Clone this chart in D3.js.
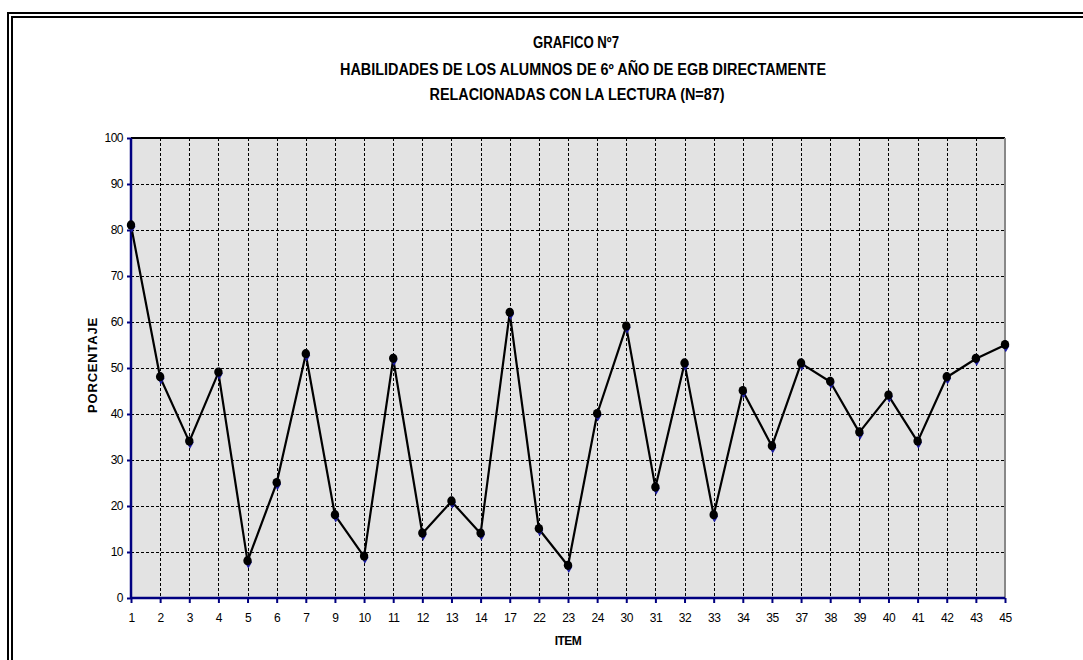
<!DOCTYPE html>
<html>
<head>
<meta charset="utf-8">
<script src="https://cdn.jsdelivr.net/npm/d3@7/dist/d3.min.js"></script>
<style>
  html, body { margin: 0; padding: 0; background: #fff; }
  svg { display: block; }
  text { font-family: "Liberation Sans", Arial, sans-serif; fill: #000; }
</style>
</head>
<body>
<svg id="chart" width="1083" height="660"></svg>
<script>
// Item numbers on the category axis
const items = ["1","2","3","4","5","6","7","9","10","11","12","13","14","17","22","23","24",
               "30","31","32","33","34","35","37","38","39","40","41","42","43","45"];
// Percentage of students per item
const percentages = [81, 48, 34, 49, 8, 25, 53, 18, 9, 52, 14, 21, 14, 62, 15, 7, 40,
                     59, 24, 51, 18, 45, 33, 51, 47, 36, 44, 34, 48, 52, 55];
const yTicks = [0, 10, 20, 30, 40, 50, 60, 70, 80, 90, 100];
const titleLines = [
  "GRAFICO Nº7",
  "HABILIDADES  DE LOS ALUMNOS DE 6º AÑO DE EGB DIRECTAMENTE",
  "RELACIONADAS CON LA LECTURA  (N=87)"
];
const xTitle = "ITEM";
const yTitle = "PORCENTAJE";

const svg = d3.select("#chart");
const W = 1083, H = 660;
const m = { left: 131, right: 1005, top: 138, bottom: 598 };
const navy = "#000080";

// Double frame around the chart
svg.append("rect").attr("x", 8).attr("y", 13).attr("width", W + 20).attr("height", H + 20)
  .attr("fill", "none").attr("stroke", "#000").attr("stroke-width", 2);
svg.append("rect").attr("x", 12).attr("y", 17).attr("width", W + 20).attr("height", H + 20)
  .attr("fill", "none").attr("stroke", "#000").attr("stroke-width", 2);

const x = d3.scalePoint().domain(items).range([m.left, m.right]).padding(0);
const y = d3.scaleLinear().domain([0, 100]).range([m.bottom, m.top]);

// Plot background
svg.append("rect").attr("x", m.left).attr("y", m.top)
  .attr("width", m.right - m.left).attr("height", m.bottom - m.top)
  .attr("fill", "#e3e3e3");

// Dashed gridlines
const grid = svg.append("g").attr("stroke", "#000").attr("stroke-width", 1)
  .attr("stroke-dasharray", "3,2");
grid.selectAll("line.h").data(yTicks.filter(d => d > 0 && d < 100)).join("line")
  .attr("x1", m.left).attr("x2", m.right)
  .attr("y1", d => Math.round(y(d)) + 0.5).attr("y2", d => Math.round(y(d)) + 0.5);
grid.selectAll("line.v").data(items.slice(1, -1)).join("line")
  .attr("y1", m.top).attr("y2", m.bottom)
  .attr("x1", d => Math.round(x(d)) + 0.5).attr("x2", d => Math.round(x(d)) + 0.5);

// Plot area border: top black, right grey
svg.append("line").attr("x1", m.left).attr("x2", m.right).attr("y1", m.top).attr("y2", m.top)
  .attr("stroke", "#000").attr("stroke-width", 2);
svg.append("line").attr("x1", m.right).attr("x2", m.right).attr("y1", m.top).attr("y2", m.bottom)
  .attr("stroke", "#888").attr("stroke-width", 2);

// Axes
const yAxis = d3.axisLeft(y).tickValues(yTicks).tickSize(4).tickPadding(4);
const gy = svg.append("g").attr("transform", `translate(${m.left},0)`).call(yAxis);
const xAxis = d3.axisBottom(x).tickSize(5).tickPadding(10);
const gx = svg.append("g").attr("transform", `translate(0,${m.bottom})`).call(xAxis);
[gx, gy].forEach(g => {
  g.select(".domain").attr("stroke", navy).attr("stroke-width", 2.5);
  g.selectAll(".tick line").attr("stroke", navy).attr("stroke-width", 2);
  g.selectAll(".tick text").attr("font-family", "'Liberation Sans', Arial, sans-serif")
    .attr("font-size", 12).attr("letter-spacing", "-0.5").attr("fill", "#000");
});
gx.select(".domain").attr("d", `M${m.left},0H${m.right}`);
gy.select(".domain").attr("d", `M0,${m.bottom}V${m.top}`);

// Series line
const line = d3.line().x((d, i) => x(items[i])).y(d => y(d));
svg.append("path").datum(percentages).attr("d", line)
  .attr("fill", "none").attr("stroke", "#000").attr("stroke-width", 2.2)
  .attr("stroke-linejoin", "round");

// Markers: navy diamond under a black dot
const mk = svg.append("g");
mk.selectAll("path.dia").data(percentages).join("path")
  .attr("d", d3.symbol().type(d3.symbolDiamond).size(45))
  .attr("transform", (d, i) => `translate(${x(items[i]) + 0.8},${y(d) + 1})`)
  .attr("fill", "#1a1aa0");
mk.selectAll("ellipse").data(percentages).join("ellipse")
  .attr("cx", (d, i) => x(items[i])).attr("cy", d => y(d) - 0.5)
  .attr("rx", 4.2).attr("ry", 4.6).attr("fill", "#000");

// Titles (bold, condensed)
const tl = svg.append("g").attr("font-weight", "bold").attr("font-size", 16)
  .attr("text-anchor", "middle");
const titleX = [576, 583, 577];
const titleY = [48, 75, 100];
const titleW = [86, 486, 295];
titleLines.forEach((t, i) => {
  tl.append("text").attr("x", titleX[i]).attr("y", titleY[i])
    .attr("textLength", titleW[i]).attr("lengthAdjust", "spacingAndGlyphs")
    .text(t);
});

svg.append("text").attr("x", 568).attr("y", 645).attr("text-anchor", "middle")
  .attr("font-weight", "bold").attr("font-size", 12).attr("letter-spacing", "-0.5").text(xTitle);
svg.append("text").attr("transform", `translate(97,${(m.top + m.bottom) / 2 - 3}) rotate(-90)`)
  .attr("text-anchor", "middle").attr("font-weight", "bold").attr("font-size", 13)
  .attr("letter-spacing", "0.8").text(yTitle);
</script>
</body>
</html>
